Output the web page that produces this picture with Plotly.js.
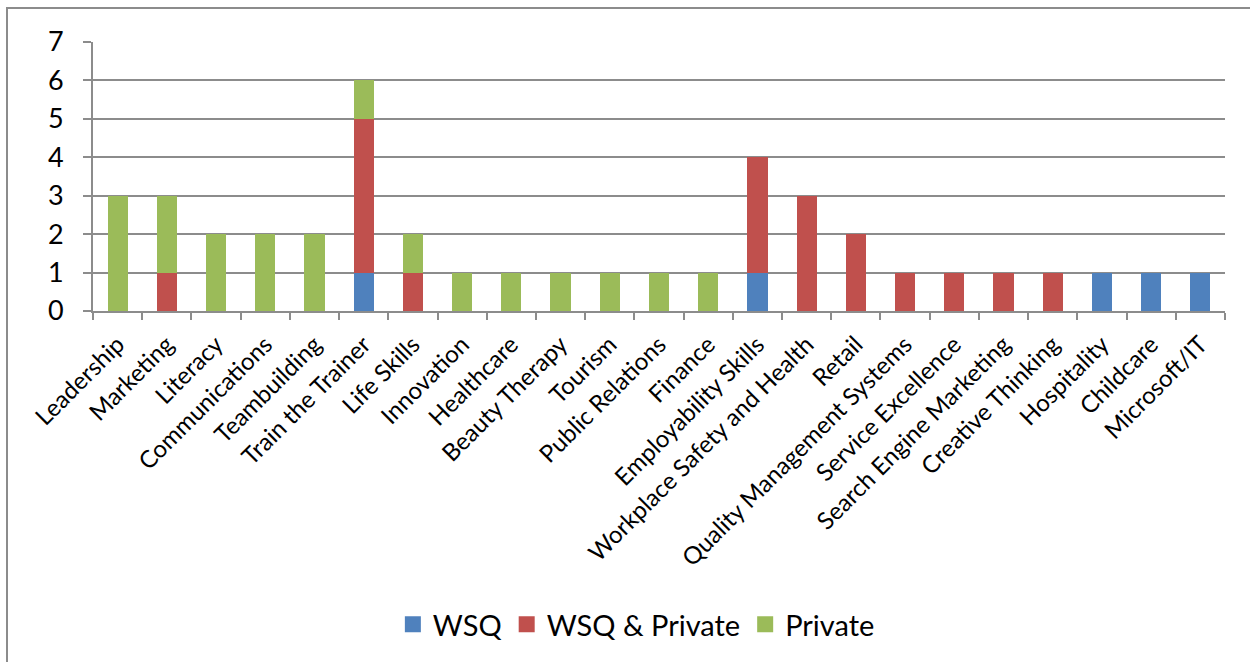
<!DOCTYPE html>
<html><head><meta charset="utf-8">
<script src="https://cdn.plot.ly/plotly-3.0.1.min.js"></script>
<style>
html,body{margin:0;padding:0;background:#fff;}
#wrap{position:relative;width:1250px;height:662px;}
#chart{width:1250px;height:662px;}
#frame{position:absolute;left:6px;top:7px;width:1250px;height:660px;border:2px solid #8c8c8c;box-sizing:border-box;pointer-events:none;}
</style></head>
<body><div id="wrap"><div id="chart"></div><div id="frame"></div></div>
<script>
const categories = ["Leadership","Marketing","Literacy","Communications","Teambuilding","Train the Trainer","Life Skills","Innovation","Healthcare","Beauty Therapy","Tourism","Public Relations","Finance","Employability Skills","Workplace Safety and Health","Retail","Quality Management Systems","Service Excellence","Search Engine Marketing","Creative Thinking","Hospitality","Childcare","Microsoft/IT"];
const wsq =        [0,0,0,0,0,1,0,0,0,0,0,0,0,1,0,0,0,0,0,0,1,1,1];
const wsqPrivate = [0,1,0,0,0,4,1,0,0,0,0,0,0,3,3,2,1,1,1,1,0,0,0];
const privateOnly =[3,2,2,2,2,1,1,1,1,1,1,1,1,0,0,0,0,0,0,0,0,0,0];
const seriesNames = ["WSQ","WSQ & Private","Private"];
const colors = ["#4f81bd","#c0504d","#9bbb59"];

const font = "Lato, 'Open Sans', sans-serif";
const data = [wsq, wsqPrivate, privateOnly].map((v,i)=>({
  type:"bar", x:categories, y:v, name:seriesNames[i], showlegend:false,
  marker:{color:colors[i], line:{width:0}}, hoverinfo:"x+y+name"
}));
// legend-only entries with larger square swatches
seriesNames.forEach((n,i)=>data.push({
  type:"scatter", mode:"markers", x:[null], y:[null], name:n,
  marker:{symbol:"square", size:18, color:colors[i]}, hoverinfo:"skip"
}));
const layout = {
  width:1250, height:662,
  barmode:"stack", bargap:0.59,
  margin:{l:93, r:25, t:41.5, b:351},
  paper_bgcolor:"#fff", plot_bgcolor:"#fff",
  font:{family:font, color:"#000"},
  showlegend:true,
  legend:{orientation:"h", x:0.48, xanchor:"center", y:-1.165, yanchor:"middle",
          font:{size:29, family:font}, itemwidth:30, traceorder:"normal", tracegroupgap:0},
  xaxis:{type:"category", tickangle:-45, tickfont:{size:24, family:font},
         showline:true, linecolor:"#8c8c8c", linewidth:2,
         ticks:"outside", tickson:"boundaries", ticklen:7, tickcolor:"#8c8c8c", tickwidth:2,
         showgrid:false, automargin:false, ticklabelstandoff:8},
  yaxis:{range:[0,7], dtick:1, tickfont:{size:27, family:font},
         showline:true, linecolor:"#8c8c8c", linewidth:2,
         ticks:"outside", ticklen:8, tickcolor:"#8c8c8c", tickwidth:2,
         showgrid:true, gridcolor:"#8c8c8c", gridwidth:2, zeroline:false,
         ticklabelstandoff:14, automargin:false}
};
Plotly.newPlot("chart", data, layout, {displayModeBar:false, staticPlot:true});
</script></body></html>
